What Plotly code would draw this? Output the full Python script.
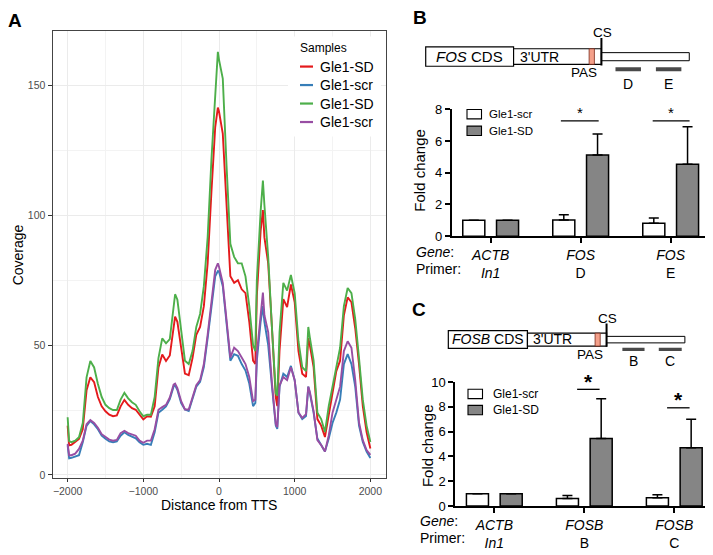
import plotly.graph_objects as go

FONT = "Liberation Sans, Arial, sans-serif"
W, H = 713, 555
PAGE_PAD = 8  # the browser's default body margin shifts the figure by this much

# ---------------- panel A: coverage around the TTS ----------------
dist = [-2000, -1980, -1950, -1900, -1850, -1800, -1750, -1700, -1650, -1600,
        -1550, -1500, -1450, -1400, -1350, -1300, -1250, -1200, -1150, -1100,
        -1050, -1000, -950, -900, -850, -800, -750, -700, -650, -600,
        -580, -550, -500, -450, -400, -350, -300, -250, -200, -150,
        -100, -50, -15, 0, 50, 100, 150, 200, 250, 300,
        350, 400, 450, 480, 500, 550, 580, 600, 650, 700,
        750, 770, 800, 850, 900, 950, 1000, 1050, 1100, 1150,
        1180, 1200, 1250, 1300, 1350, 1400, 1450, 1500, 1550, 1600,
        1650, 1700, 1750, 1800, 1850, 1900, 1950, 2000]

cov_sd1 = [19, 11.4, 11.6, 12.6, 13.9, 17.6, 32.6, 37.6, 35.7, 30,
           26.4, 24.5, 23.2, 22.6, 22.9, 26.4, 28.9, 27, 25.7, 25.1,
           23.2, 21.4, 22.6, 22.4, 26.4, 41.4, 46.4, 43.9, 46, 57.6,
           61, 59, 49, 39, 38.4, 45, 54, 57, 65, 81.5,
           109, 134, 141.5, 140, 131.5, 104, 76.5, 74, 75, 71.5,
           70, 59, 44, 42.7, 69, 94, 102, 91.5, 81.5, 56.5,
           30, 26.5, 48, 67.7, 64.6, 73.4, 66.5, 47.7, 39, 37.7,
           52.7, 50, 41.5, 21.5, 19, 14.6, 24, 31.5, 40, 44,
           61.5, 68.4, 66.5, 56.5, 42.7, 26.5, 16.5, 10.2]

cov_scr1 = [11.4, 6.4, 6.6, 7, 7.6, 12.6, 18.9, 20.8, 19.5, 17.6,
            15.1, 13.9, 12.9, 12.6, 12.9, 15.1, 16.4, 15.4, 14.9, 14.1,
            12.6, 11.6, 12, 11.6, 16.4, 23.9, 25.1, 26.4, 29.2, 34,
            34.6, 32.7, 27.7, 25.2, 24.6, 29, 34, 35.9, 41.5, 52.7,
            65, 76.5, 78.5, 78.4, 72.7, 59, 44, 46.5, 45.9, 42.7,
            40.2, 35.2, 26.5, 27.7, 44, 59, 65, 59, 50, 34,
            19, 17.7, 34, 39, 37.7, 42, 36.5, 24, 21.5, 22.7,
            34, 31.5, 24, 14, 11.5, 9, 14, 20, 24, 29,
            42.7, 46.5, 42.7, 34, 19, 12.7, 9, 6.5]

cov_sd2 = [22.2, 13, 12.6, 13.2, 14.5, 20, 37.6, 43.9, 41.4, 35,
           30, 27, 25.7, 25, 25, 29, 31.6, 29.5, 28, 27,
           24.5, 22.6, 23.2, 23.2, 30, 45, 52.6, 50.7, 52.3, 66,
           69.6, 67.5, 56.5, 44, 42.7, 47.7, 57, 62, 72.7, 91.5,
           121.5, 149, 163, 160, 152.7, 119, 89, 84, 81.5, 81.5,
           76.5, 65, 50, 47.7, 75, 101.5, 113.4, 104, 84, 56.5,
           31.5, 30.5, 55, 74, 71, 77, 70, 51.5, 41.5, 40,
           57, 53, 44, 24, 21.5, 16.5, 26.5, 34, 41.5, 49,
           65, 72, 70, 60, 45, 29, 19, 12.7]

cov_scr2 = [12, 7.6, 7.6, 8.2, 10, 13.2, 19.5, 21.1, 20, 18.2,
            15.7, 14.5, 13.6, 13.2, 13.5, 16.1, 17, 16.1, 15.7, 15.1,
            13.2, 12.4, 13.2, 13.2, 17.6, 25.1, 26.1, 27, 29.8, 34.8,
            35.2, 33.4, 28.4, 25.2, 25.2, 29.6, 34.6, 36.5, 42.7, 54,
            67.7, 79, 81.5, 80.2, 74, 60, 45.2, 49, 47.7, 45.2,
            42.7, 37.7, 28.4, 29, 46.5, 61.5, 70.2, 61.5, 55, 35.2,
            19.6, 18.4, 34.5, 37.7, 36.5, 41.5, 36.5, 24, 22, 23.4,
            34, 32, 24.6, 13.4, 11.5, 9, 15.2, 24, 29, 34,
            47.7, 51.5, 49, 36.5, 20.2, 13.4, 9.6, 7.7]

sample_names = ["Gle1-SD", "Gle1-scr", "Gle1-SD", "Gle1-scr"]
sample_colors = ["#E41A1C", "#377EB8", "#4DAF4A", "#984EA3"]

# ---------------- panels B / C: qPCR fold change ----------------
b_genes = ["ACTB", "FOS", "FOS"]
b_primers = ["In1", "D", "E"]
b_scr = [1.0, 1.02, 0.82]
b_scr_err = [0, 0.33, 0.32]
b_sd = [1.0, 5.12, 4.53]
b_sd_err = [0, 1.32, 2.38]
b_sig_from = [0.78, 1.80]
b_sig_to = [1.20, 2.21]
b_sig_y = [7.28, 7.28]

c_genes = ["ACTB", "FOSB", "FOSB"]
c_primers = ["In1", "B", "C"]
c_scr = [1.0, 0.6, 0.68]
c_scr_err = [0, 0.25, 0.23]
c_sd = [1.0, 5.44, 4.7]
c_sd_err = [0, 3.22, 2.3]
c_sig_from = [0.92, 1.92]
c_sig_to = [1.17, 2.17]
c_sig_y = [9.41, 7.92]

# gene schematics (arbitrary units along the gene)
fos_cds = [0, 100]
fos_utr = [100, 200]
fos_pas = [186, 192]
fos_ext = [200, 300]
fos_primer_names = ["D", "E"]
fos_primer_pos = [[216, 245], [262, 291]]

fosb_cds = [0, 100]
fosb_utr = [100, 200]
fosb_pas = [185.5, 192]
fosb_ext = [200, 299]
fosb_primer_names = ["B", "C"]
fosb_primer_pos = [[220, 248], [266, 295]]


def px(x):
    return (x - PAGE_PAD) / W


def py(y):
    return 1 - (y - PAGE_PAD) / H


fig = go.Figure()


def note(text, x, y, size=14, xanchor="center", yanchor="middle", color="black",
         xref="paper", yref="paper", **kw):
    if xref == "paper":
        x = px(x)
    if yref == "paper":
        y = py(y)
    fig.add_annotation(text=text, x=x, y=y, xref=xref, yref=yref, showarrow=False,
                       xanchor=xanchor, yanchor=yanchor,
                       font=dict(family=FONT, size=size, color=color), **kw)


# --- A lines
for name, ys, col in zip(sample_names, [cov_sd1, cov_scr1, cov_sd2, cov_scr2], sample_colors):
    fig.add_trace(go.Scatter(x=dist, y=ys, mode="lines", name=name,
                             line=dict(color=col, width=1.9), showlegend=False,
                             xaxis="x", yaxis="y"))

# --- bar panels
def add_bars(xa, ya, scr, scr_err, sd, sd_err):
    pos = list(range(len(scr)))
    for vals, errs, fill, off in [(scr, scr_err, "white", -0.31), (sd, sd_err, "#858585", 0.065)]:
        fig.add_trace(go.Bar(
            x=pos, y=vals, width=0.245, offset=off,
            marker=dict(color=fill, line=dict(color="black", width=1.5)),
            error_y=dict(type="data", array=errs, arrayminus=[0] * len(errs),
                         symmetric=False, color="black", thickness=1.5, width=5),
            showlegend=False, xaxis=xa, yaxis=ya))


add_bars("x2", "y2", b_scr, b_scr_err, b_sd, b_sd_err)
add_bars("x3", "y3", c_scr, c_scr_err, c_sd, c_sd_err)

shapes = []

# significance brackets
for x0, x1, yv in zip(b_sig_from, b_sig_to, b_sig_y):
    shapes.append(dict(type="line", xref="x2", yref="y2", x0=x0, x1=x1, y0=yv, y1=yv,
                       line=dict(color="black", width=1.3)))
    note("*", (x0 + x1) / 2, yv, size=15, xref="x2", yref="y2", yshift=8)
for x0, x1, yv in zip(c_sig_from, c_sig_to, c_sig_y):
    shapes.append(dict(type="line", xref="x3", yref="y3", x0=x0, x1=x1, y0=yv, y1=yv,
                       line=dict(color="black", width=1.3)))
    note("<b>*</b>", (x0 + x1) / 2, yv, size=21, xref="x3", yref="y3", yshift=8)


# gene schematics
def draw_gene(xa, ya, cds, utr, pas, ext, pnames, ppos, label, g, cds_size):
    xr, yr = xa, ya
    shapes.append(dict(type="rect", xref=xr, yref=yr, x0=cds[0], x1=cds[1], y0=g["cds"][0], y1=g["cds"][1],
                       line=dict(color="black", width=1.2), fillcolor="white"))
    shapes.append(dict(type="rect", xref=xr, yref=yr, x0=utr[0], x1=utr[1], y0=g["utr"][0], y1=g["utr"][1],
                       line=dict(color="black", width=1.2), fillcolor="white"))
    shapes.append(dict(type="rect", xref=xr, yref=yr, x0=pas[0], x1=pas[1], y0=g["utr"][0], y1=g["utr"][1],
                       line=dict(color="#7a2a1a", width=0.8), fillcolor="#F4A08A"))
    shapes.append(dict(type="rect", xref=xr, yref=yr, x0=ext[0], x1=ext[1], y0=g["ext"][0], y1=g["ext"][1],
                       line=dict(color="black", width=1.0), fillcolor="white"))
    shapes.append(dict(type="line", xref=xr, yref=yr, x0=ext[0], x1=ext[0], y0=g["cs"][0], y1=g["cs"][1],
                       line=dict(color="black", width=2)))
    for nm, (p0, p1) in zip(pnames, ppos):
        shapes.append(dict(type="rect", xref=xr, yref=yr, x0=p0, x1=p1, y0=g["pr"][0], y1=g["pr"][1],
                           line=dict(width=0), fillcolor="#4a4a4a"))
        note(nm, (p0 + p1) / 2, g["lab"], size=14, xref=xr, yref=yr)
    mid = sum(g["cds"]) / 2
    note(label, (cds[0] + cds[1]) / 2, mid, size=cds_size, xref=xr, yref=yr)
    note("3'UTR", utr[0] + 5, mid, size=14, xanchor="left", xref=xr, yref=yr)
    note("CS", ext[0] + 1.5, g["cs_txt"], size=13.5, xref=xr, yref=yr)
    note("PAS", ext[0] - 2.5, g["pas_txt"], size=13.5, xanchor="right", xref=xr, yref=yr)


draw_gene("x4", "y4", fos_cds, fos_utr, fos_pas, fos_ext, fos_primer_names, fos_primer_pos,
          "<i>FOS</i> CDS",
          dict(cds=[24.3, 44.3], utr=[26.3, 42.3], ext=[30, 38.3], cs=[25, 53.3],
               pr=[19.3, 23.3], lab=6, cs_txt=59, pas_txt=18), 15)
draw_gene("x5", "y5", fosb_cds, fosb_utr, fosb_pas, fosb_ext, fosb_primer_names, fosb_primer_pos,
          "<i>FOSB</i> CDS",
          dict(cds=[19.3, 37.7], utr=[21.7, 35], ext=[25, 31.7], cs=[21, 45],
               pr=[16.7, 20], lab=6, cs_txt=50, pas_txt=13), 14)

# --- panel A hand-made legend (white key box inside the panel)
shapes.append(dict(type="rect", xref="paper", yref="paper", x0=px(288), x1=px(381), y0=py(133), y1=py(30),
                   line=dict(width=0), fillcolor="white", layer="above"))
note("Samples", 298, 42, size=12, xanchor="left")
for i, (nm, col) in enumerate(zip(sample_names, sample_colors)):
    yy = 61 + i * 19
    shapes.append(dict(type="line", xref="paper", yref="paper", x0=px(300), x1=px(313), y0=py(yy), y1=py(yy),
                       line=dict(color=col, width=2.2), layer="above"))
    note(nm, 318, yy, size=14, xanchor="left")

# --- bar legends
for (x0, ys, tx, fs) in [(467, [110, 127], 487, 11.5), (468, [397.5, 414], 491, 12)]:
    for yy, fill, nm in zip(ys, ["white", "#858585"], ["Gle1-scr", "Gle1-SD"]):
        shapes.append(dict(type="rect", xref="paper", yref="paper", x0=px(x0), x1=px(x0 + 14.5),
                           y0=py(yy + 4.8), y1=py(yy - 4.8), line=dict(color="black", width=1.1),
                           fillcolor=fill))
        note(nm, tx, yy, size=fs, xanchor="left")

# --- axis titles, panel letters, row labels
note("Coverage", 18, 255, size=14, textangle=-90)
note("Distance from TTS", 219, 512, size=14)
note("Fold change", 420, 168, size=15, textangle=-90)
note("Fold change", 427, 450, size=15, textangle=-90)
note("<b>A</b>", 15, 14, size=19)
note("<b>B</b>", 420, 11, size=19)
note("<b>C</b>", 419, 311, size=19)
note("<i>Gene</i>:", 414, 251.7, xanchor="left")
note("Primer:", 414, 269.5, xanchor="left")
note("<i>Gene</i>:", 418, 528.5, xanchor="left")
note("Primer:", 418, 546, xanchor="left")

b_ticks = ["<i>%s</i><br>%s" % (g, p if p != "In1" else "<i>In1</i>") for g, p in zip(b_genes, b_primers)]
c_ticks = ["<i>%s</i><br>%s" % (g, p if p != "In1" else "<i>In1</i>") for g, p in zip(c_genes, c_primers)]

grid = "#EBEBEB"
bar_x = dict(showline=True, linecolor="black", linewidth=1.5, ticks="outside", ticklen=5,
             tickwidth=1.5, tickcolor="black", tickvals=[0, 1, 2], showgrid=False, zeroline=False,
             tickfont=dict(family=FONT, size=14, color="black"))
bar_y = dict(showline=True, linecolor="black", linewidth=1.5, ticks="outside", ticklen=5,
             tickwidth=1.5, tickcolor="black", showgrid=False, zeroline=False,
             tickfont=dict(family=FONT, size=13, color="black"))

fig.update_layout(
    width=W, height=H, autosize=False,
    margin=dict(l=0, r=0, t=0, b=0),
    paper_bgcolor="white", plot_bgcolor="white",
    barmode="overlay",
    showlegend=False,
    font=dict(family=FONT, color="black"),
    xaxis=dict(domain=[px(52.5), px(385.5)], range=[-2200, 2200], anchor="y",
               tickvals=[-2000, -1000, 0, 1000, 2000], ticks="outside", ticklen=3,
               tickcolor="#333333", showgrid=True, gridcolor=grid, gridwidth=1,
               minor=dict(dtick=500, tick0=-2000, showgrid=True, gridcolor="#F3F3F3", gridwidth=1, ticks=""),
               showline=True, mirror=True, linecolor="#444444", linewidth=1, zeroline=False,
               tickfont=dict(family=FONT, size=10.5, color="#4D4D4D")),
    yaxis=dict(domain=[py(484), py(24.3)], range=[-1.24, 171.06], anchor="x",
               tickvals=[0, 50, 100, 150], ticks="outside", ticklen=4,
               tickcolor="#333333", showgrid=True, gridcolor=grid, gridwidth=1,
               minor=dict(dtick=25, tick0=0, showgrid=True, gridcolor="#F3F3F3", gridwidth=1, ticks=""),
               showline=True, mirror=True, linecolor="#444444", linewidth=1, zeroline=False,
               tickfont=dict(family=FONT, size=10.5, color="#4D4D4D")),
    xaxis2=dict(bar_x, domain=[px(451.7), px(711)], range=[-0.433, 2.448], anchor="y2", ticktext=b_ticks),
    yaxis2=dict(bar_y, domain=[py(235.3), py(105)], range=[0, 8], anchor="x2", tickvals=[0, 2, 4, 6, 8]),
    xaxis3=dict(bar_x, domain=[px(455), px(711)], range=[-0.437, 2.408], anchor="y3", ticktext=c_ticks),
    yaxis3=dict(bar_y, domain=[py(512.7), py(385.2)], range=[0, 10], anchor="x3", tickvals=[0, 2, 4, 6, 8, 10]),
    xaxis4=dict(domain=[px(420), px(700)], range=[-6.5, 312.2], anchor="y4", visible=False),
    yaxis4=dict(domain=[py(85), py(15)], range=[0, 70], anchor="x4", visible=False),
    xaxis5=dict(domain=[px(420), px(700)], range=[-35.8, 318.1], anchor="y5", visible=False),
    yaxis5=dict(domain=[py(370), py(300)], range=[0, 70], anchor="x5", visible=False),
    shapes=shapes,
)

fig.write_html("out.html")
